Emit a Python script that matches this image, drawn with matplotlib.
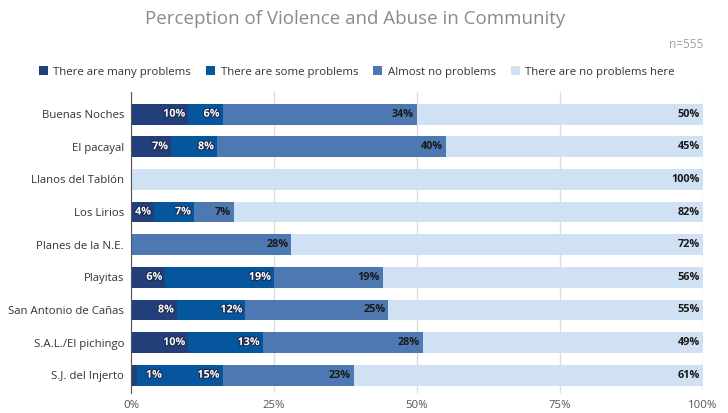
import matplotlib.pyplot as plt
import matplotlib.patheffects as pe
import numpy as np

plt.rcParams['font.family'] = ['Open Sans', 'DejaVu Sans']

communities = ['Buenas Noches', 'El pacayal', 'Llanos del Tablón', 'Los Lirios',
               'Planes de la N.E.', 'Playitas', 'San Antonio de Cañas',
               'S.A.L./El pichingo', 'S.J. del Injerto']
many = [10, 7, 0, 4, 0, 6, 8, 10, 1]
some = [6, 8, 0, 7, 0, 19, 12, 13, 15]
almost = [34, 40, 0, 7, 28, 19, 25, 28, 23]
none_here = [50, 45, 100, 82, 72, 56, 55, 49, 61]

series = [
    ('There are many problems', many, '#223f7a'),
    ('There are some problems', some, '#05569c'),
    ('Almost no problems', almost, '#4e78b2'),
    ('There are no problems here', none_here, '#cfe1f3'),
]

fig = plt.figure(figsize=(7.28, 4.13), dpi=100)
ax = fig.add_axes([0.18, 0.048, 0.7857, 0.729])

y = np.arange(len(communities))
left = np.zeros(len(communities))
for i, (name, vals, color) in enumerate(series):
    vals = np.array(vals, dtype=float)
    ax.barh(y, vals, left=left, height=0.64, color=color, label=name,
            edgecolor='none', zorder=2)
    for yi, (l, v) in enumerate(zip(left, vals)):
        if v <= 0:
            continue
        # too narrow for the label: put it just past the segment end
        x, ha = (l + v + 1.6, 'left') if v < 3 else (l + v - 0.5, 'right')
        if i < 2:
            txt = ax.text(x, yi, f'{v:.0f}%', ha=ha, va='center',
                          fontsize=7.8, fontweight='bold', color='white', zorder=4)
            txt.set_path_effects([pe.withStroke(linewidth=1.5, foreground='#1a2a50')])
        else:
            ax.text(x, yi, f'{v:.0f}%', ha=ha, va='center',
                    fontsize=7.8, fontweight='bold', color='#1a1a1a', zorder=4)
    left += vals

ax.set_xlim(0, 100)
ax.set_ylim(len(communities) - 0.45, -0.675)
ax.set_yticks(y)
ax.set_yticklabels(communities, fontsize=8.2, color='#333333')
ax.set_xticks([0, 25, 50, 75, 100])
ax.set_xticklabels(['0%', '25%', '50%', '75%', '100%'], fontsize=8.2, color='#555555')
ax.tick_params(axis='both', length=0, pad=5)
ax.grid(axis='x', color='#dddddd', linewidth=1, zorder=0)
for s in ['top', 'right', 'bottom']:
    ax.spines[s].set_visible(False)
ax.spines['left'].set_color('#555555')
ax.spines['left'].set_zorder(5)

fig.text(0.488, 0.955, 'Perception of Violence and Abuse in Community',
         ha='center', va='center', fontsize=13.5, color='#8a8a8a')
fig.text(0.966, 0.893, 'n=555', ha='right', va='center', fontsize=8.5, color='#a0a0a0')

fig.legend(loc='center', bbox_to_anchor=(0.49, 0.826), ncol=4, frameon=False,
           fontsize=8.2, handlelength=0.8, handleheight=0.8, handletextpad=0.5,
           columnspacing=1.3, labelcolor='#333333')

fig.savefig('out.png', dpi=100)
